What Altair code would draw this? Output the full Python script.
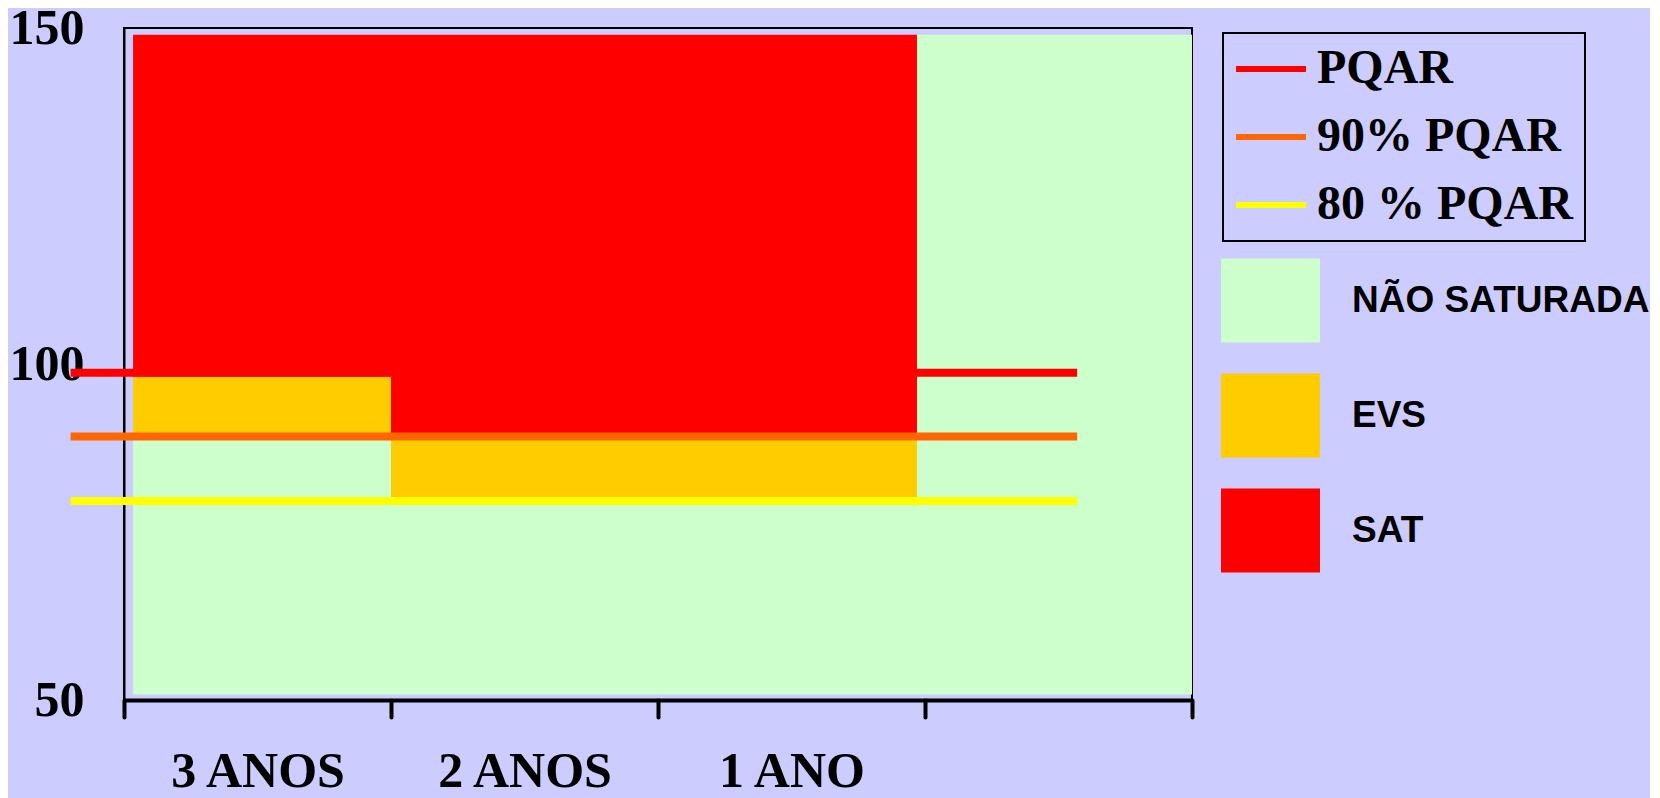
import altair as alt
import pandas as pd

# ---- data (axis units) ----
zone_names = ["NÃO SATURADA", "EVS", "SAT", "NÃO SATURADA", "EVS", "SAT", "NÃO SATURADA"]
zone_x0 = [0.034, 0.034, 0.034, 1.0, 1.0, 1.0, 2.97]
zone_x1 = [1.0, 1.0, 1.0, 2.97, 2.97, 2.97, 4.0]
zone_y0 = [50.8, 89.2, 98.1, 50.8, 80.2, 89.2, 50.8]
zone_y1 = [89.2, 98.1, 149.0, 80.2, 89.2, 149.0, 149.0]

line_names = ["PQAR", "90% PQAR", "80 % PQAR"]
line_values = [98.7, 89.2, 79.6]
line_x0 = [-0.2, -0.2, -0.2]
line_x1 = [3.57, 3.57, 3.57]

x_labels = ["3 ANOS", "2 ANOS", "1 ANO"]
x_label_pos = [0.5, 1.5, 2.5]
x_tick_values = [0, 0.5, 1, 1.5, 2, 2.5, 3, 3.5, 4]
y_tick_values = [50, 100, 150]

zone_domain = ["NÃO SATURADA", "EVS", "SAT"]
zone_colors = ["#CCFFCC", "#FFCC00", "#FF0000"]
line_colors = ["#FF0000", "#FF6600", "#FFFF00"]

zones = pd.DataFrame({"zona": zone_names, "x0": zone_x0, "x1": zone_x1,
                      "y0": zone_y0, "y1": zone_y1})
lines = pd.DataFrame({"serie": line_names, "v": line_values,
                      "x0": line_x0, "x1": line_x1})

label_expr = "".join(
    f"datum.value == {p} ? '{t}' : " for p, t in zip(x_label_pos, x_labels)
) + "''"

SERIF = "Liberation Serif"
SANS = "Liberation Sans"

x_scale = alt.Scale(domain=[0, 4], nice=False, zero=False)
y_scale = alt.Scale(domain=[50, 150], nice=False, zero=False)

flat_box = "M-1,-0.85H1V0.85H-1Z"

rects = alt.Chart(zones).mark_rect().encode(
    x=alt.X("x0:Q", scale=x_scale, title=None,
            axis=alt.Axis(values=x_tick_values, labelExpr=label_expr, grid=False,
                          domainColor="#000000", domainWidth=4,
                          tickColor="#000000", tickWidth=4, tickSize=17, tickCap="round",
                          tickOpacity={"condition": {"test": "datum.value % 1 !== 0", "value": 0}, "value": 1},
                          labelFont=SERIF, labelFontSize=50, labelFontWeight="bold",
                          labelColor="#000000", labelPadding=29, labelFlush=False,
                          labelOverlap=False, labelBaseline="top")),
    x2="x1:Q",
    y=alt.Y("y0:Q", scale=y_scale, title=None,
            axis=alt.Axis(values=y_tick_values, ticks=False, grid=False,
                          domainColor="#000000", domainWidth=2,
                          labelFont=SERIF, labelFontSize=50, labelFontWeight="bold",
                          labelColor="#000000", labelPadding=40)),
    y2="y1:Q",
    fill=alt.Fill("zona:N", scale=alt.Scale(domain=zone_domain, range=zone_colors),
                  legend=alt.Legend(title=None, orient="none", legendX=1097, legendY=223,
                                    symbolType=flat_box, symbolSize=9801,
                                    symbolStrokeWidth=0, symbolOpacity=1,
                                    rowPadding=23, padding=0, labelOffset=32,
                                    labelFont=SANS, labelFontSize=37, labelFontWeight="bold",
                                    labelColor="#000000", labelLimit=600)),
)

rules = alt.Chart(lines).mark_rule(strokeWidth=8).encode(
    x=alt.X("x0:Q", scale=x_scale),
    x2="x1:Q",
    y=alt.Y("v:Q", scale=y_scale),
    stroke=alt.Stroke("serie:N", scale=alt.Scale(domain=line_names, range=line_colors),
                      legend=alt.Legend(title=None, orient="none", legendX=1099, legendY=5,
                                        symbolType="M-1.75,0H1.75", symbolSize=1600,
                                        symbolStrokeWidth=6, symbolOffset=12,
                                        rowPadding=20, padding=12, labelOffset=22,
                                        strokeColor="#000000",
                                        labelFont=SERIF, labelFontSize=48, labelFontWeight="bold",
                                        labelColor="#000000", labelLimit=600)),
)

chart = alt.layer(rects, rules).properties(
    width=1068, height=672,
    padding={"left": 116, "top": 20, "right": 458, "bottom": 100},
    autosize=alt.AutoSizeParams(type="none"),
    background="#CCCCFF",
).configure_view(stroke="#000000", strokeWidth=2).configure_legend(strokeWidth=2)

chart.save("out.html", embed_options={"renderer": "svg", "actions": False})
